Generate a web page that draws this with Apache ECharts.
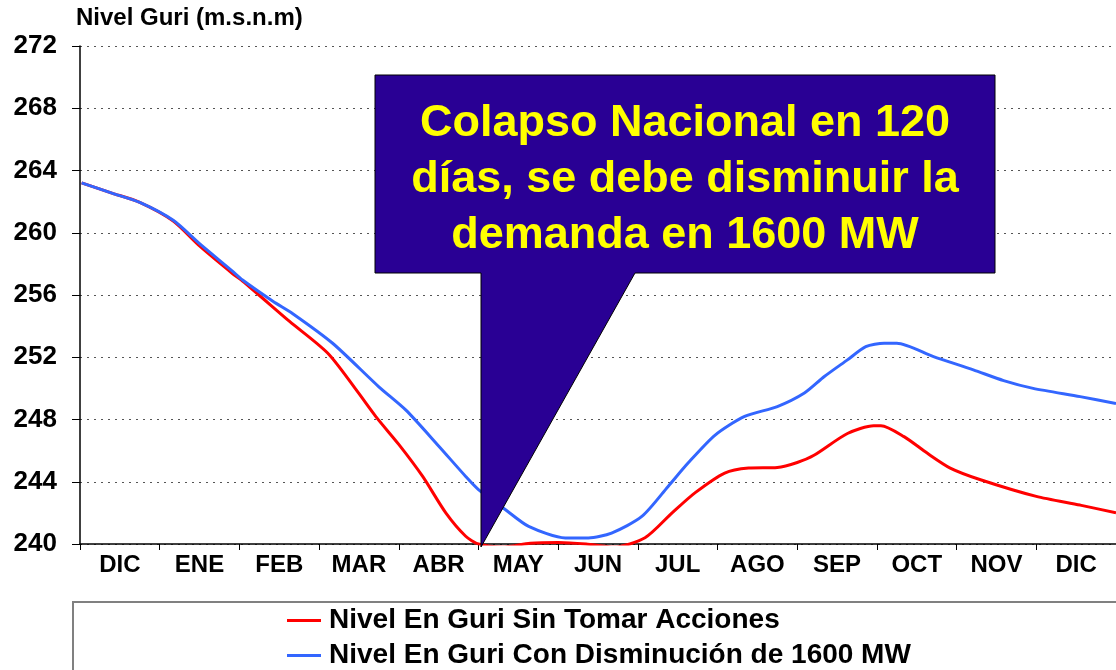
<!DOCTYPE html>
<html>
<head>
<meta charset="utf-8">
<title>Nivel Guri</title>
<script src="https://cdn.jsdelivr.net/npm/echarts@6/dist/echarts.min.js"></script>
<style>
  html, body { margin: 0; padding: 0; background: #fff; }
  #myChart { width: 1116px; height: 670px; }
</style>
</head>
<body>
<div id="myChart"></div>
<script>
// Meses del eje X (de DIC a DIC)
var months = ["DIC", "ENE", "FEB", "MAR", "ABR", "MAY", "JUN", "JUL", "AGO", "SEP", "OCT", "NOV", "DIC"];

// Posicion en meses (0 = inicio de DIC) y nivel en m.s.n.m
var redX = [0.02, 0.4, 0.75, 1.17, 1.5, 1.92, 2.04, 2.63, 3.13, 3.71, 4.0, 4.3, 4.59, 4.84, 5.0, 5.3, 5.65, 6.0, 6.35, 6.7, 7.09, 7.43, 7.72, 8.09, 8.39, 8.75, 9.0, 9.21, 9.63, 9.96, 10.05, 10.34, 10.63, 10.92, 11.3, 12.0, 12.55, 13.0];
var redY = [263.2, 262.55, 261.95, 260.75, 259.15, 257.35, 256.9, 254.3, 252.15, 248.2, 246.4, 244.34, 242.0, 240.5, 240.0, 239.8, 240.05, 240.1, 240.0, 239.8, 240.4, 242.0, 243.3, 244.56, 244.88, 244.92, 245.24, 245.7, 247.1, 247.6, 247.6, 246.9, 245.84, 244.88, 244.13, 243.06, 242.5, 242.0];

var blueX = [0.02, 0.4, 0.75, 1.17, 1.5, 1.92, 2.04, 2.42, 2.67, 3.17, 3.75, 4.09, 4.5, 4.84, 5.0, 5.34, 5.63, 6.09, 6.38, 6.67, 7.05, 7.38, 7.63, 7.97, 8.34, 8.75, 9.09, 9.34, 9.63, 9.86, 10.09, 10.25, 10.71, 11.21, 11.59, 11.96, 12.55, 13.0];
var blueY = [263.2, 262.55, 261.95, 260.8, 259.3, 257.5, 256.96, 255.6, 254.8, 252.9, 250.1, 248.6, 246.3, 244.34, 243.5, 242.2, 241.13, 240.39, 240.39, 240.7, 241.77, 243.7, 245.2, 247.0, 248.2, 248.83, 249.7, 250.76, 251.83, 252.68, 252.9, 252.9, 252.04, 251.19, 250.5, 250.0, 249.47, 249.03];

var seriesNames = ["Nivel En Guri Sin Tomar Acciones", "Nivel En Guri Con Disminución de 1600 MW"];
var calloutLines = ["Colapso Nacional en 120", "días, se debe disminuir la", "demanda en 1600 MW"];

var FONT = "'Liberation Sans', Arial, sans-serif";

function pairs(xs, ys) {
  var out = [];
  for (var i = 0; i < xs.length; i++) {
    out.push([xs[i], ys[i]]);
  }
  return out;
}

var myChart = echarts.init(document.getElementById("myChart"));

var option = {
  backgroundColor: "#fff",
  animation: false,
  title: {
    text: "Nivel Guri (m.s.n.m)",
    left: 76,
    top: 6,
    padding: 0,
    textStyle: { fontFamily: FONT, fontSize: 24, fontWeight: "bold", color: "#000" }
  },
  grid: { left: 80, right: -3, top: 46, bottom: 126 },
  xAxis: [
    {
      type: "value",
      min: 0,
      max: 13,
      show: false
    },
    {
      type: "category",
      data: months,
      position: "bottom",
      boundaryGap: true,
      axisLine: { show: true, lineStyle: { color: "#000", width: 1.5 } },
      axisTick: { show: true, length: 6, lineStyle: { color: "#000" } },
      axisLabel: { margin: 9, fontFamily: FONT, fontSize: 24, fontWeight: "bold", color: "#000" },
      splitLine: { show: false }
    }
  ],
  yAxis: {
    type: "value",
    min: 240,
    max: 272,
    interval: 4,
    axisLine: { show: true, lineStyle: { color: "#000", width: 1.5 } },
    axisTick: { show: true, length: 8, lineStyle: { color: "#000" } },
    axisLabel: { margin: 23, fontFamily: FONT, fontSize: 26, fontWeight: "bold", color: "#000" },
    splitLine: { show: true, lineStyle: { color: "#555", type: [2, 5], width: 1 } }
  },
  legend: {
    orient: "vertical",
    left: 287,
    top: 605,
    height: 120,
    padding: 0,
    icon: "rect",
    itemWidth: 34,
    itemHeight: 3,
    itemGap: 4,
    data: seriesNames,
    textStyle: { fontFamily: FONT, fontSize: 28, fontWeight: "bold", color: "#000", lineHeight: 31, padding: [0, 0, 0, 3] }
  },
  series: [
    {
      name: seriesNames[0],
      type: "line",
      xAxisIndex: 0,
      data: pairs(redX, redY),
      symbol: "none",
      smooth: 0.25,
      lineStyle: { color: "#ff0000", width: 3 },
      itemStyle: { color: "#ff0000" }
    },
    {
      name: seriesNames[1],
      type: "line",
      xAxisIndex: 0,
      data: pairs(blueX, blueY),
      symbol: "none",
      smooth: 0.25,
      lineStyle: { color: "#3366ff", width: 3 },
      itemStyle: { color: "#3366ff" }
    }
  ],
  graphic: [
    // recuadro de la leyenda
    {
      type: "rect",
      z: 50,
      shape: { x: 73, y: 602, width: 1060, height: 90 },
      style: { fill: "none", stroke: "#808080", lineWidth: 2 }
    },
    // globo con la punta en el cruce ABR/MAY
    {
      type: "polygon",
      z: 100,
      shape: {
        points: [[375, 75], [995, 75], [995, 273], [635, 273], [481, 547], [481, 273], [375, 273]]
      },
      style: { fill: "#290094", stroke: "#000", lineWidth: 1 }
    },
    {
      type: "text",
      z: 101,
      x: 685,
      y: 180,
      style: {
        text: calloutLines.join("\n"),
        fill: "#ffff00",
        font: "bold 45px " + FONT,
        lineHeight: 56,
        align: "center",
        verticalAlign: "middle"
      }
    }
  ]
};

myChart.setOption(option);
</script>
</body>
</html>
